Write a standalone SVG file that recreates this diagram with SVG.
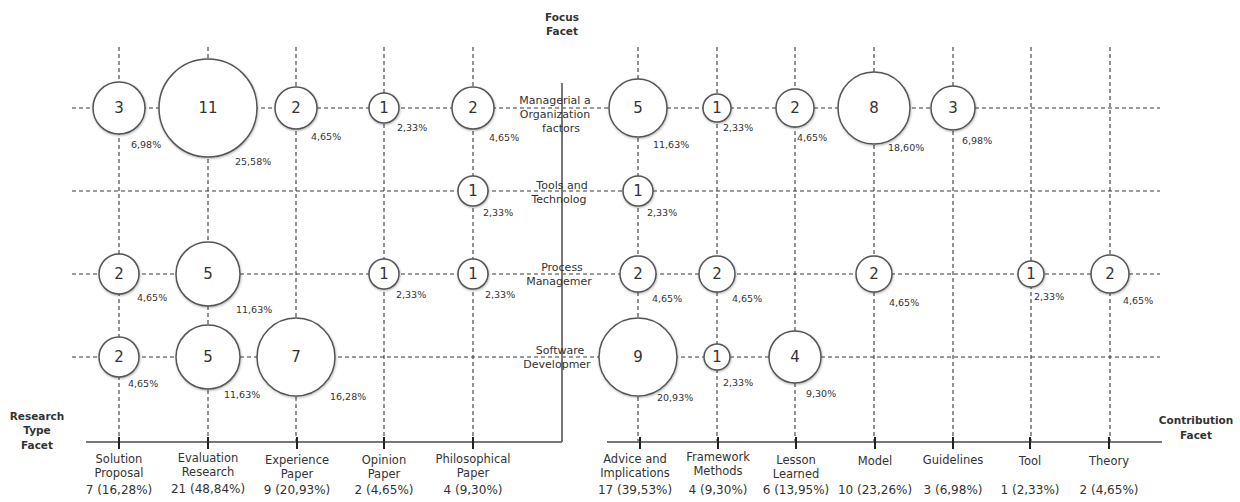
<svg xmlns="http://www.w3.org/2000/svg" width="1240" height="502" viewBox="0 0 1240 502">
<style>
.grid{stroke:#3a3a3a;stroke-width:1.1;stroke-dasharray:4 3;fill:none}
.axis{stroke:#777;stroke-width:2;fill:none}
.tick{stroke:#222;stroke-width:2}
.b{fill:#fff;stroke:#555;stroke-width:1.5;filter:url(#sh)}
.n{font-family:"DejaVu Sans",sans-serif;font-size:15px;fill:#333;text-anchor:middle}
.p{font-family:"DejaVu Sans",sans-serif;font-size:9.5px;fill:#333}
.rl{font-family:"DejaVu Sans",sans-serif;font-size:11px;fill:#333;text-anchor:middle}
.bl{font-family:"DejaVu Sans",sans-serif;font-size:11.5px;fill:#333;text-anchor:middle}
.bn{font-family:"DejaVu Sans",sans-serif;font-size:12px;fill:#333;text-anchor:middle}
.h{font-family:"DejaVu Sans",sans-serif;font-size:10.5px;font-weight:bold;fill:#333;text-anchor:middle}
</style>
<defs>
<filter id="sh" x="-20%" y="-20%" width="140%" height="140%">
<feDropShadow dx="0.5" dy="1" stdDeviation="1" flood-color="#000" flood-opacity="0.3"/>
</filter>
</defs>
<rect width="1240" height="502" fill="#fff"/>
<g id="connectors">
<line class="grid" x1="72" y1="108" x2="1160" y2="108"/>
<line class="grid" x1="72" y1="191" x2="1160" y2="191"/>
<line class="grid" x1="72" y1="274" x2="1160" y2="274"/>
<line class="grid" x1="72" y1="357" x2="1160" y2="357"/>
<line class="grid" x1="119" y1="47" x2="119" y2="441"/>
<line class="grid" x1="208" y1="47" x2="208" y2="441"/>
<line class="grid" x1="296" y1="47" x2="296" y2="441"/>
<line class="grid" x1="384" y1="47" x2="384" y2="441"/>
<line class="grid" x1="473" y1="47" x2="473" y2="441"/>
<line class="grid" x1="638" y1="47" x2="638" y2="441"/>
<line class="grid" x1="717" y1="47" x2="717" y2="441"/>
<line class="grid" x1="795" y1="47" x2="795" y2="441"/>
<line class="grid" x1="874" y1="47" x2="874" y2="441"/>
<line class="grid" x1="953" y1="47" x2="953" y2="441"/>
<line class="grid" x1="1031" y1="47" x2="1031" y2="441"/>
<line class="grid" x1="1110" y1="47" x2="1110" y2="441"/>
<line class="axis" x1="562" y1="83" x2="562" y2="442"/>
<line class="axis" x1="86" y1="442" x2="562" y2="442"/>
<line class="axis" x1="607" y1="442" x2="1162" y2="442"/>
<g class="tick">
<line x1="119" y1="437" x2="119" y2="449"/><line x1="208" y1="437" x2="208" y2="449"/>
<line x1="297" y1="437" x2="297" y2="449"/><line x1="384" y1="437" x2="384" y2="449"/>
<line x1="473" y1="437" x2="473" y2="449"/><line x1="640" y1="437" x2="640" y2="449"/>
<line x1="718" y1="437" x2="718" y2="449"/><line x1="796" y1="437" x2="796" y2="449"/>
<line x1="875" y1="437" x2="875" y2="449"/><line x1="953" y1="437" x2="953" y2="449"/>
<line x1="1030" y1="437" x2="1030" y2="449"/><line x1="1109" y1="437" x2="1109" y2="449"/>
</g>
</g>
<g id="facet-labels">
<text class="h" x="562" y="21">Focus</text>
<text class="h" x="562" y="35">Facet</text>
<text class="h" x="37" y="420">Research</text>
<text class="h" x="37" y="434">Type</text>
<text class="h" x="37" y="449">Facet</text>
<text class="h" x="1196" y="424">Contribution</text>
<text class="h" x="1196" y="439">Facet</text>
</g>
<g id="row-labels">
<text class="rl" x="555" y="104">Managerial a</text>
<text class="rl" x="555" y="118">Organization</text>
<text class="rl" x="561" y="132">factors</text>
<text class="rl" x="562" y="189">Tools and</text>
<text class="rl" x="559" y="203">Technolog</text>
<text class="rl" x="562" y="271">Process</text>
<text class="rl" x="559" y="285">Managemer</text>
<text class="rl" x="560" y="354">Software</text>
<text class="rl" x="557" y="368">Developmer</text>
</g>
<g id="col-labels">
<text class="bl" x="119" y="463">Solution</text><text class="bl" x="119" y="477">Proposal</text><text class="bn" x="119" y="494">7 (16,28%)</text>
<text class="bl" x="208" y="462">Evaluation</text><text class="bl" x="208" y="476">Research</text><text class="bn" x="208" y="493">21 (48,84%)</text>
<text class="bl" x="297" y="464">Experience</text><text class="bl" x="297" y="478">Paper</text><text class="bn" x="297" y="494">9 (20,93%)</text>
<text class="bl" x="384" y="464">Opinion</text><text class="bl" x="384" y="478">Paper</text><text class="bn" x="384" y="494">2 (4,65%)</text>
<text class="bl" x="473" y="463">Philosophical</text><text class="bl" x="473" y="477">Paper</text><text class="bn" x="473" y="494">4 (9,30%)</text>
<text class="bl" x="635" y="463">Advice and</text><text class="bl" x="635" y="477">Implications</text><text class="bn" x="635" y="494">17 (39,53%)</text>
<text class="bl" x="718" y="461">Framework</text><text class="bl" x="718" y="475">Methods</text><text class="bn" x="718" y="494">4 (9,30%)</text>
<text class="bl" x="796" y="464">Lesson</text><text class="bl" x="796" y="478">Learned</text><text class="bn" x="796" y="494">6 (13,95%)</text>
<text class="bl" x="875" y="465">Model</text><text class="bn" x="875" y="494">10 (23,26%)</text>
<text class="bl" x="953" y="464">Guidelines</text><text class="bn" x="953" y="494">3 (6,98%)</text>
<text class="bl" x="1030" y="465">Tool</text><text class="bn" x="1030" y="494">1 (2,33%)</text>
<text class="bl" x="1109" y="465">Theory</text><text class="bn" x="1109" y="494">2 (4,65%)</text>
</g>
<g id="b-r1-solution"><circle class="b" cx="119" cy="108" r="26"/><text class="n" x="119" y="113">3</text><text class="p" x="131" y="148">6,98%</text></g>
<g id="b-r1-evaluation"><circle class="b" cx="208" cy="108" r="49"/><text class="n" x="208" y="113">11</text><text class="p" x="235" y="165">25,58%</text></g>
<g id="b-r1-experience"><circle class="b" cx="296" cy="108" r="21"/><text class="n" x="296" y="113">2</text><text class="p" x="311" y="140">4,65%</text></g>
<g id="b-r1-opinion"><circle class="b" cx="384" cy="108" r="15"/><text class="n" x="384" y="113">1</text><text class="p" x="397" y="131">2,33%</text></g>
<g id="b-r1-philosophical"><circle class="b" cx="473" cy="108" r="21"/><text class="n" x="473" y="113">2</text><text class="p" x="489" y="141">4,65%</text></g>
<g id="b-r1-advice"><circle class="b" cx="638" cy="108" r="29"/><text class="n" x="638" y="113">5</text><text class="p" x="653" y="148">11,63%</text></g>
<g id="b-r1-framework"><circle class="b" cx="717" cy="108" r="14"/><text class="n" x="717" y="113">1</text><text class="p" x="723" y="131">2,33%</text></g>
<g id="b-r1-lesson"><circle class="b" cx="795" cy="108" r="19"/><text class="n" x="795" y="113">2</text><text class="p" x="797" y="141">4,65%</text></g>
<g id="b-r1-model"><circle class="b" cx="874" cy="108" r="36"/><text class="n" x="874" y="113">8</text><text class="p" x="888" y="151">18,60%</text></g>
<g id="b-r1-guidelines"><circle class="b" cx="953" cy="108" r="22"/><text class="n" x="953" y="113">3</text><text class="p" x="962" y="144">6,98%</text></g>
<g id="b-r2-philosophical"><circle class="b" cx="473" cy="191" r="15"/><text class="n" x="473" y="196">1</text><text class="p" x="483" y="216">2,33%</text></g>
<g id="b-r2-advice"><circle class="b" cx="638" cy="191" r="15"/><text class="n" x="638" y="196">1</text><text class="p" x="647" y="216">2,33%</text></g>
<g id="b-r3-solution"><circle class="b" cx="119" cy="274" r="20"/><text class="n" x="119" y="279">2</text><text class="p" x="137" y="301">4,65%</text></g>
<g id="b-r3-evaluation"><circle class="b" cx="208" cy="274" r="32"/><text class="n" x="208" y="279">5</text><text class="p" x="236" y="313">11,63%</text></g>
<g id="b-r3-opinion"><circle class="b" cx="384" cy="274" r="15"/><text class="n" x="384" y="279">1</text><text class="p" x="396" y="298">2,33%</text></g>
<g id="b-r3-philosophical"><circle class="b" cx="473" cy="274" r="15"/><text class="n" x="473" y="279">1</text><text class="p" x="485" y="298">2,33%</text></g>
<g id="b-r3-advice"><circle class="b" cx="638" cy="274" r="18"/><text class="n" x="638" y="279">2</text><text class="p" x="652" y="302">4,65%</text></g>
<g id="b-r3-framework"><circle class="b" cx="717" cy="274" r="18"/><text class="n" x="717" y="279">2</text><text class="p" x="732" y="302">4,65%</text></g>
<g id="b-r3-model"><circle class="b" cx="874" cy="274" r="18"/><text class="n" x="874" y="279">2</text><text class="p" x="889" y="306">4,65%</text></g>
<g id="b-r3-tool"><circle class="b" cx="1031" cy="274" r="13"/><text class="n" x="1031" y="279">1</text><text class="p" x="1034" y="300">2,33%</text></g>
<g id="b-r3-theory"><circle class="b" cx="1110" cy="274" r="19"/><text class="n" x="1110" y="279">2</text><text class="p" x="1123" y="304">4,65%</text></g>
<g id="b-r4-solution"><circle class="b" cx="119" cy="357" r="20"/><text class="n" x="119" y="362">2</text><text class="p" x="128" y="387">4,65%</text></g>
<g id="b-r4-evaluation"><circle class="b" cx="208" cy="357" r="32"/><text class="n" x="208" y="362">5</text><text class="p" x="224" y="398">11,63%</text></g>
<g id="b-r4-experience"><circle class="b" cx="296" cy="357" r="39"/><text class="n" x="296" y="362">7</text><text class="p" x="330" y="400">16,28%</text></g>
<g id="b-r4-advice"><circle class="b" cx="638" cy="357" r="39"/><text class="n" x="638" y="362">9</text><text class="p" x="657" y="401">20,93%</text></g>
<g id="b-r4-framework"><circle class="b" cx="717" cy="357" r="13"/><text class="n" x="717" y="362">1</text><text class="p" x="723" y="386">2,33%</text></g>
<g id="b-r4-lesson"><circle class="b" cx="795" cy="357" r="26"/><text class="n" x="795" y="362">4</text><text class="p" x="806" y="397">9,30%</text></g>
</svg>
